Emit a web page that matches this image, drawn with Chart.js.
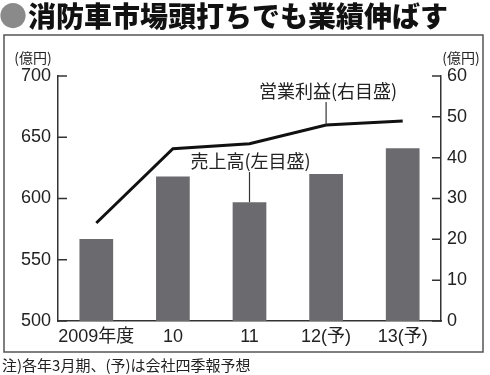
<!DOCTYPE html>
<html>
<head>
<meta charset="utf-8">
<script src="https://cdn.jsdelivr.net/npm/chart.js@4"></script>
<style>body{margin:0;background:#fff}</style>
</head>
<body>
<canvas id="c" width="490" height="375"></canvas>
<script>
const categories = ['2009年度', '10', '11', '12(予)', '13(予)']
const sales = [567, 618, 597, 620, 641]   // 売上高 (左目盛, 億円)
const profit = [24, 42.2, 43.4, 48, 49]   // 営業利益 (右目盛, 億円)
const leftTicks = [500, 550, 600, 650, 700]
const rightTicks = [0, 10, 20, 30, 40, 50, 60]

const FONT = "'Liberation Sans', 'Noto Sans CJK JP', sans-serif"
const JP = "'Noto Sans CJK JP', sans-serif"
const INK = '#222'

const decor = {
  id: 'decor',
  beforeDraw(chart) {
    const ctx = chart.ctx
    ctx.save()
    ctx.fillStyle = '#fff'
    ctx.fillRect(0, 0, chart.width, chart.height)
    ctx.restore()
  },
  afterDraw(chart) {
    const { ctx, chartArea: a, scales } = chart
    ctx.save()

    // frame
    ctx.strokeStyle = '#555'
    ctx.lineWidth = 1.5
    ctx.strokeRect(4, 35, 479, 317)

    // title
    ctx.textBaseline = 'middle'
    ctx.textAlign = 'left'
    ctx.font = `900 28px ${JP}`
    ctx.fillStyle = '#8a8a8a'
    ctx.fillText('●', -1, 16)
    ctx.fillStyle = '#111'
    ctx.fillText('消防車市場頭打ちでも業績伸ばす', 28, 16)

    // note
    ctx.font = `15px ${JP}`
    ctx.fillStyle = INK
    ctx.fillText('注)各年3月期、(予)は会社四季報予想', 2, 365)

    // units
    ctx.font = `14px ${JP}`
    ctx.textAlign = 'center'
    ctx.fillText('(億円)', 33, 58)
    ctx.fillText('(億円)', 461, 58)

    // inner tick marks
    ctx.strokeStyle = '#333'
    ctx.lineWidth = 1.5
    ctx.beginPath()
    leftTicks.forEach(v => {
      const y = scales.y.getPixelForValue(v)
      ctx.moveTo(a.left, y); ctx.lineTo(a.left + 9, y)
    })
    rightTicks.forEach(v => {
      const y = scales.y1.getPixelForValue(v)
      ctx.moveTo(a.right - 9, y); ctx.lineTo(a.right, y)
    })
    ctx.stroke()

    // series labels with leader lines
    ctx.font = `18px ${JP}`
    ctx.fillStyle = INK
    ctx.lineWidth = 1.2
    const px = scales.x.getPixelForValue(3)
    ctx.fillText('営業利益(右目盛)', px + 2, 91)
    ctx.beginPath()
    ctx.moveTo(px, 102); ctx.lineTo(px, scales.y1.getPixelForValue(profit[3]))
    ctx.stroke()

    const sx = scales.x.getPixelForValue(2)
    ctx.fillText('売上高(左目盛)', sx + 1, 161)
    ctx.beginPath()
    ctx.moveTo(sx, 172); ctx.lineTo(sx, scales.y.getPixelForValue(sales[2]))
    ctx.stroke()

    ctx.restore()
  }
}

new Chart(document.getElementById('c'), {
  data: {
    labels: categories,
    datasets: [
      {
        type: 'line',
        data: profit,
        yAxisID: 'y1',
        borderColor: '#111',
        borderWidth: 3,
        pointRadius: 0,
        tension: 0,
        order: 0
      },
      {
        type: 'bar',
        data: sales,
        yAxisID: 'y',
        backgroundColor: '#6b6b6f',
        barPercentage: 0.44,
        categoryPercentage: 1,
        order: 1
      }
    ]
  },
  options: {
    responsive: false,
    animation: false,
    layout: { padding: { top: 76, left: 0, right: 0, bottom: 0 } },
    plugins: { legend: { display: false }, tooltip: { enabled: false } },
    scales: {
      x: {
        grid: { display: false, drawTicks: false },
        border: { color: '#333', width: 1.5 },
        ticks: { color: INK, font: { family: FONT, size: 18 }, padding: 5, maxRotation: 0, autoSkip: false },
        afterFit: s => { s.height = 54 }
      },
      y: {
        position: 'left',
        min: 500, max: 700,
        grid: { display: false, drawTicks: false },
        border: { color: '#333', width: 1.5 },
        ticks: { stepSize: 50, color: INK, font: { family: FONT, size: 18 }, padding: 7 },
        afterFit: s => { s.width = 58 }
      },
      y1: {
        position: 'right',
        min: 0, max: 60,
        grid: { display: false, drawTicks: false },
        border: { color: '#333', width: 1.5 },
        ticks: { stepSize: 10, color: INK, font: { family: FONT, size: 18 }, padding: 6 },
        afterFit: s => { s.width = 49 }
      }
    }
  },
  plugins: [decor]
})
</script>
</body>
</html>
